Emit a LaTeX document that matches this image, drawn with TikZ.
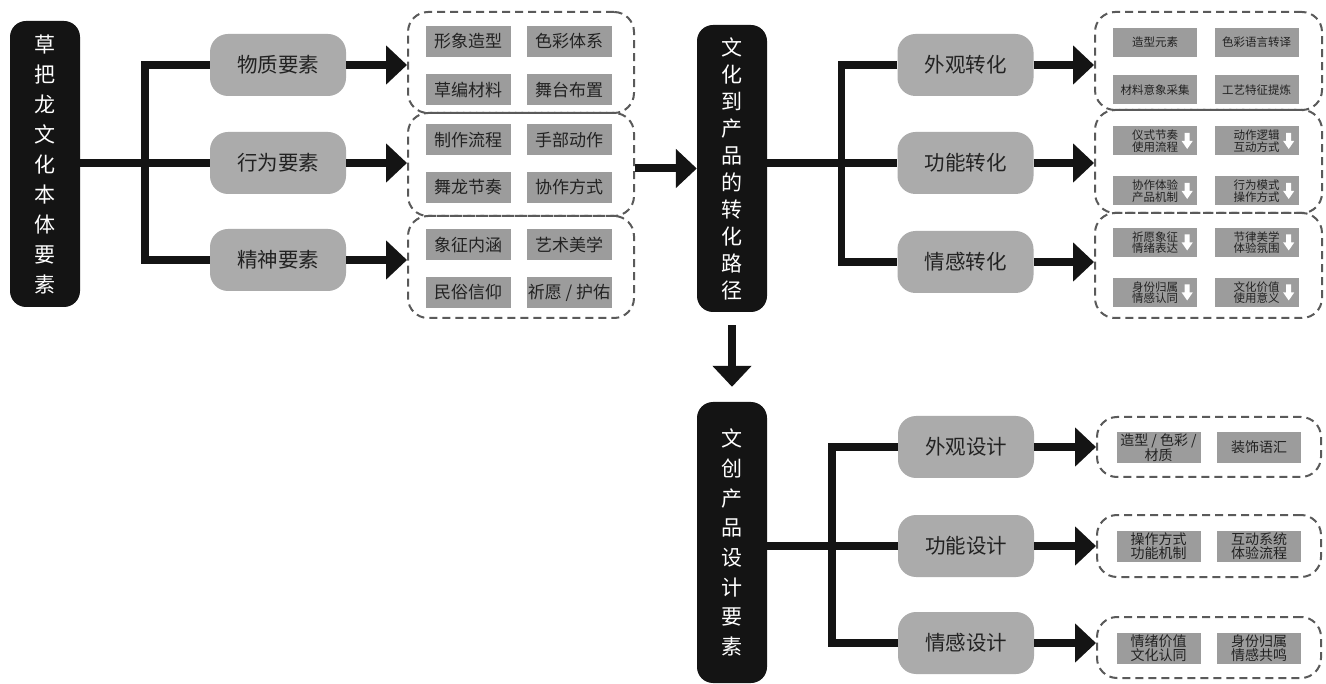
\documentclass[tikz,border=0pt]{standalone}
\usepackage{fontspec}
\setmainfont{Noto Sans CJK SC}
\usetikzlibrary{arrows.meta}
\definecolor{inkblack}{HTML}{141414}
\definecolor{boxgray}{HTML}{ABABAB}
\definecolor{itemgray}{HTML}{9C9C9C}
\definecolor{dashgray}{HTML}{5A5A5A}
\definecolor{textgray}{HTML}{222222}
\tikzset{
  darkbox/.style={fill=inkblack, rounded corners=16pt, text=white, minimum width=70pt,
    align=center, inner sep=0pt},
  graybox/.style={fill=boxgray, rounded corners=18pt, minimum width=136pt, minimum height=62pt,
    text=textgray, font=\fontsize{20.5}{24}\selectfont},
  group/.style={draw=dashgray, line width=2pt, dash pattern=on 8pt off 5pt, rounded corners=20pt},
  item/.style={fill=itemgray, minimum width=85pt, minimum height=31pt, inner sep=0pt,
    text=textgray, font=\fontsize{17}{20}\selectfont},
  smallitem/.style={fill=itemgray, minimum width=84pt, minimum height=29pt, inner sep=0pt,
    align=center, text=textgray, font=\fontsize{11.5}{11.5}\selectfont},
  miditem/.style={fill=itemgray, minimum width=84pt, minimum height=31pt, inner sep=0pt,
    align=center, text=textgray, font=\fontsize{14}{14}\selectfont},
  bar/.style={line width=7.5pt, draw=inkblack},
  arr/.style={line width=8pt, draw=inkblack, -{Triangle[length=21pt,width=38pt]}},
  downmark/.pic={
    \fill[white] (-2.5,-8) -- (2.5,-8) -- (2.5,0) -- (5.5,0) -- (0,8) -- (-5.5,0) -- (-2.5,0) -- cycle;
  }
}
\begin{document}
\begin{tikzpicture}[x=1pt,y=-1pt]
  \path[fill=white, use as bounding box] (0,0) rectangle (1326,684);
  % ontology of the grass dragon culture
  \node[darkbox, minimum height=286pt, font=\fontsize{21}{30}\selectfont] (L) at (45,164)
    {草\\把\\龙\\文\\化\\本\\体\\要\\素};
  \node[graybox] (M1) at (278,65) {物质要素};
  \node[graybox] (M2) at (278,163) {行为要素};
  \node[graybox] (M3) at (278,260) {精神要素};
  \node[group, minimum width=226pt, minimum height=101pt] (DM1) at (521,62.5) {};
  \node[group, minimum width=226pt, minimum height=103pt] (DM2) at (521,164.5) {};
  \node[group, minimum width=226pt, minimum height=102pt] (DM3) at (521,267) {};
  \node[item] (m11) at (468,41.5) {形象造型};
  \node[item] (m12) at (569,41.5) {色彩体系};
  \node[item] (m13) at (468,90) {草编材料};
  \node[item] (m14) at (569,90) {舞台布置};
  \node[item] (m21) at (468,140) {制作流程};
  \node[item] (m22) at (569,140) {手部动作};
  \node[item] (m23) at (468,187.5) {舞龙节奏};
  \node[item] (m24) at (569,187.5) {协作方式};
  \node[item] (m31) at (468,245) {象征内涵};
  \node[item] (m32) at (569,245) {艺术美学};
  \node[item] (m33) at (468,292.5) {民俗信仰};
  \node[item] (m34) at (569,292.5) {祈愿 / 护佑};
  \draw[bar] (L.east |- M2.west) -- (M2.west);
  \draw[bar] (M1.west) -- ++(-65,0) |- (M3.west);
  \draw[arr] (M1.east) -- (M1.east -| DM1.west);
  \draw[arr] (M2.east) -- (M2.east -| DM2.west);
  \draw[arr] (M3.east) -- (M3.east -| DM3.west);
  % transformation path
  \node[darkbox, minimum height=287pt, font=\fontsize{21}{27}\selectfont] (C) at (732,168.5)
    {文\\化\\到\\产\\品\\的\\转\\化\\路\\径};
  \draw[arr] (DM2.east |- C.west) -- (C.west);
  \node[graybox] (T1) at (965.5,65) {外观转化};
  \node[graybox] (T2) at (965.5,163) {功能转化};
  \node[graybox] (T3) at (965.5,262) {情感转化};
  \node[group, minimum width=227pt, minimum height=98pt] (DT1) at (1208.5,61) {};
  \node[group, minimum width=227pt, minimum height=103pt] (DT2) at (1208.5,161.5) {};
  \node[group, minimum width=227pt, minimum height=105pt] (DT3) at (1208.5,265.5) {};
  \node[smallitem] (t11) at (1155,42.5) {造型元素};
  \node[smallitem] (t12) at (1256.5,42.5) {色彩语言转译};
  \node[smallitem] (t13) at (1155,90) {材料意象采集};
  \node[smallitem] (t14) at (1256.5,90) {工艺特征提炼};
  \node[smallitem] (t21) at (1155,141) {仪式节奏\\使用流程};
  \node[smallitem] (t22) at (1256.5,141) {动作逻辑\\互动方式};
  \node[smallitem] (t23) at (1155,191) {协作体验\\产品机制};
  \node[smallitem] (t24) at (1256.5,191) {行为模式\\操作方式};
  \node[smallitem] (t31) at (1155,242.5) {祈愿象征\\情绪表达};
  \node[smallitem] (t32) at (1256.5,242.5) {节律美学\\体验氛围};
  \node[smallitem] (t33) at (1155,292.5) {身份归属\\情感认同};
  \node[smallitem] (t34) at (1256.5,292.5) {文化价值\\使用意义};
  \pic at ([xshift=-10pt]t21.east) {downmark};
  \pic at ([xshift=-10pt]t22.east) {downmark};
  \pic at ([xshift=-10pt]t23.east) {downmark};
  \pic at ([xshift=-10pt]t24.east) {downmark};
  \pic at ([xshift=-10pt]t31.east) {downmark};
  \pic at ([xshift=-10pt]t32.east) {downmark};
  \pic at ([xshift=-10pt]t33.east) {downmark};
  \pic at ([xshift=-10pt]t34.east) {downmark};
  \draw[bar] (C.east |- T2.west) -- (T2.west);
  \draw[bar] (T1.west) -- ++(-56,0) |- (T3.west);
  \draw[arr] (T1.east) -- (T1.east -| DT1.west);
  \draw[arr] (T2.east) -- (T2.east -| DT2.west);
  \draw[arr] (T3.east) -- (T3.east -| DT3.west);
  % design elements
  \node[darkbox, minimum height=281pt, font=\fontsize{21}{29.7}\selectfont] (B) at (732,542.5)
    {文\\创\\产\\品\\设\\计\\要\\素};
  \draw[arr, shorten <=13pt, shorten >=15pt] (C.south) -- (B.north);
  \node[graybox] (S1) at (966,447) {外观设计};
  \node[graybox] (S2) at (966,546) {功能设计};
  \node[graybox] (S3) at (966,643) {情感设计};
  \node[group, minimum width=224pt, minimum height=60pt] (DS1) at (1209,447) {};
  \node[group, minimum width=224pt, minimum height=62pt] (DS2) at (1209,546) {};
  \node[group, minimum width=224pt, minimum height=61pt] (DS3) at (1209,647.5) {};
  \node[miditem] (s11) at (1158.5,447.5) {造型 / 色彩 /\\材质};
  \node[miditem] (s12) at (1259,447.5) {装饰语汇};
  \node[miditem] (s21) at (1158.5,546) {操作方式\\功能机制};
  \node[miditem] (s22) at (1259,546) {互动系统\\体验流程};
  \node[miditem] (s31) at (1158.5,648) {情绪价值\\文化认同};
  \node[miditem] (s32) at (1259,648) {身份归属\\情感共鸣};
  \draw[bar] (B.east |- S2.west) -- (S2.west);
  \draw[bar] (S1.west) -- ++(-66,0) |- (S3.west);
  \draw[arr] (S1.east) -- (S1.east -| DS1.west);
  \draw[arr] (S2.east) -- (S2.east -| DS2.west);
  \draw[arr] (S3.east) -- (S3.east -| DS3.west);
\end{tikzpicture}
\end{document}
